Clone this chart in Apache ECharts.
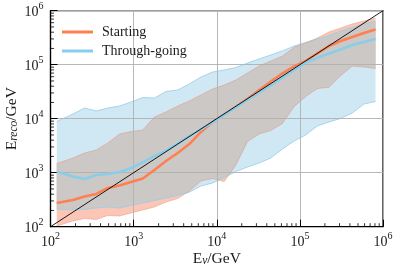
<!DOCTYPE html>
<html><head><meta charset="utf-8">
<script src="https://cdn.jsdelivr.net/npm/echarts@6/dist/echarts.min.js"></script>
<style>html,body{margin:0;padding:0;background:#fff}#c{width:399px;height:272px}</style>
</head><body><div id="c"></div>
<script>
// All values are log10(GeV)
const energyLog10 = [2.075, 2.27, 2.41, 2.55, 2.69, 2.83, 2.97, 3.11, 3.25, 3.39, 3.53, 3.67, 3.81, 3.95, 4.09, 4.23, 4.37, 4.51, 4.65, 4.79, 4.93, 5.07, 5.21, 5.35, 5.49, 5.63, 5.77, 5.91];
const startingMedianLog10 = [2.439, 2.494, 2.559, 2.606, 2.717, 2.763, 2.828, 2.893, 3.05, 3.217, 3.365, 3.531, 3.754, 3.939, 4.08, 4.22, 4.37, 4.53, 4.69, 4.84, 4.97, 5.07, 5.207, 5.346, 5.439, 5.513, 5.587, 5.652];
const startingUpperLog10 = [3.170, 3.272, 3.365, 3.420, 3.550, 3.717, 3.763, 3.791, 4.031, 4.124, 4.235, 4.328, 4.439, 4.55, 4.624, 4.717, 4.846, 4.976, 5.069, 5.16, 5.322, 5.402, 5.494, 5.606, 5.68, 5.754, 5.81, 5.865];
const startingLowerLog10 = [2.013, 2.106, 2.152, 2.133, 2.207, 2.198, 2.254, 2.309, 2.365, 2.457, 2.522, 2.661, 2.846, 2.893, 2.837, 3.143, 3.576, 3.717, 3.78, 3.913, 4.222, 4.411, 4.559, 4.581, 4.796, 4.976, 4.957, 4.93];
const throughMedianLog10 = [3.019, 2.930, 2.883, 2.957, 2.976, 3.013, 3.087, 3.189, 3.309, 3.411, 3.541, 3.680, 3.80, 3.93, 4.08, 4.21, 4.35, 4.48, 4.62, 4.76, 4.90, 5.039, 5.124, 5.207, 5.281, 5.365, 5.42, 5.476];
const throughUpperLog10 = [3.948, 4.087, 4.198, 4.143, 4.198, 4.235, 4.309, 4.393, 4.383, 4.504, 4.531, 4.643, 4.772, 4.865, 4.902, 4.948, 5.031, 5.106, 5.180, 5.254, 5.346, 5.412, 5.476, 5.541, 5.624, 5.689, 5.754, 5.809];
const throughLowerLog10 = [2.328, 2.309, 2.319, 2.346, 2.365, 2.346, 2.393, 2.439, 2.485, 2.531, 2.578, 2.64, 2.754, 2.809, 2.911, 3.022, 3.106, 3.180, 3.272, 3.439, 3.587, 3.698, 3.865, 3.939, 4.004, 4.106, 4.272, 4.319];
const identityLine = [100, 1000000];
const axisMin = 100, axisMax = 1000000;
const majorTicks = [100, 1000, 10000, 100000, 1000000];
const minorMultipliers = [2, 3, 4, 5, 6, 7, 8, 9];
const seriesNames = ['Starting', 'Through-going'];

const FONT = 'Liberation Serif';
const TXT = '#1a1a1a';
const P = v => Math.pow(10, v);
const zip = (xs, ys) => xs.map((x, i) => [x, ys[i]]);

function envelope(xs, a, b, pick) {
  const out = [];
  for (let i = 0; i < xs.length; i++) {
    out.push([xs[i], pick(a[i], b[i])]);
    if (i < xs.length - 1) {
      const d0 = a[i] - b[i], d1 = a[i + 1] - b[i + 1];
      if (d0 * d1 < 0) {
        const t = d0 / (d0 - d1);
        out.push([xs[i] + t * (xs[i + 1] - xs[i]), a[i] + t * (a[i + 1] - a[i])]);
      }
    }
  }
  return out;
}
function toPx(api, pts) { return pts.map(p => api.coord([P(p[0]), P(p[1])])); }
function bandSeries(upper, lower, fill, z) {
  return {
    type: 'custom', silent: true, z: z, clip: true, data: [[axisMin, axisMin]],
    renderItem: (params, api) => ({
      type: 'polygon',
      shape: { points: toPx(api, upper.concat(lower.slice().reverse())) },
      style: { fill: fill, stroke: null }
    })
  };
}
function edgeSeries(lines, color, z) {
  return {
    type: 'custom', silent: true, z: z, clip: true, data: [[axisMin, axisMin]],
    renderItem: (params, api) => ({
      type: 'group',
      children: lines.map(l => ({ type: 'polyline', shape: { points: toPx(api, l) }, style: { stroke: color, lineWidth: 0.9, fill: null } }))
    })
  };
}

const sHi = zip(energyLog10, startingUpperLog10), sLo = zip(energyLog10, startingLowerLog10);
const tHi = zip(energyLog10, throughUpperLog10), tLo = zip(energyLog10, throughLowerLog10);
const oHi = envelope(energyLog10, startingUpperLog10, throughUpperLog10, Math.min);
const oLo = envelope(energyLog10, startingLowerLog10, throughLowerLog10, Math.max);

const minorVals = [];
majorTicks.slice(0, -1).forEach(d => minorMultipliers.forEach(m => minorVals.push(d * m)));

const labelRich = {
  b: { fontFamily: FONT, fontSize: 14, color: TXT, lineHeight: 18, verticalAlign: 'bottom' },
  e: { fontFamily: FONT, fontSize: 10, color: TXT, lineHeight: 18, verticalAlign: 'top' }
};
const nameRich = {
  b: { fontFamily: FONT, fontSize: 15.5, color: TXT, verticalAlign: 'bottom', lineHeight: 20 },
  s: { fontFamily: FONT, fontSize: 11.5, color: TXT, fontStyle: 'italic', verticalAlign: 'bottom', lineHeight: 15 }
};
const expFmt = v => '{b|10}{e|' + Math.round(Math.log10(v)) + '}';

const chart = echarts.init(document.getElementById('c'), null, { renderer: 'canvas' });
chart.setOption({
  animation: false,
  backgroundColor: '#fff',
  grid: { left: 50.5, right: 16, top: 10.7, bottom: 45.3, show: true, borderColor: '#000', borderWidth: 1.2, backgroundColor: 'transparent', outerBoundsMode: 'none' },
  legend: {
    data: [{ name: seriesNames[0], icon: 'rect' }, { name: seriesNames[1], icon: 'rect' }],
    orient: 'vertical', left: 57, top: 20, itemWidth: 31, itemHeight: 3, itemGap: 5,
    textStyle: { fontFamily: FONT, fontSize: 14, color: TXT, padding: [0, 0, 0, 4] }
  },
  xAxis: {
    type: 'log', logBase: 10, min: axisMin, max: axisMax, z: 3,
    name: '{b|E}{s|ν}{b|/GeV}', nameLocation: 'middle', nameGap: 20, nameMoveOverlap: false,
    nameTextStyle: { rich: nameRich },
    axisLine: { show: true, onZero: false, lineStyle: { color: '#000', width: 1.2 } },
    axisTick: { show: true, inside: true, length: 7, lineStyle: { color: '#000', width: 1 } },
    axisLabel: { formatter: expFmt, rich: labelRich, margin: 5 },
    splitLine: { show: true, lineStyle: { color: '#b0b0b0', width: 0.9 } },
    minorTick: { show: false }
  },
  yAxis: {
    type: 'log', logBase: 10, min: axisMin, max: axisMax, z: 3,
    name: '{b|E}{s|reco}{b|/GeV}', nameLocation: 'middle', nameGap: 31, nameRotate: 90, nameMoveOverlap: false,
    nameTextStyle: { rich: nameRich },
    axisLine: { show: true, onZero: false, lineStyle: { color: '#000', width: 1.2 } },
    axisTick: { show: true, inside: true, length: 7, lineStyle: { color: '#000', width: 1 } },
    axisLabel: { formatter: expFmt, rich: labelRich, margin: 7 },
    splitLine: { show: true, lineStyle: { color: '#b0b0b0', width: 0.9 } },
    minorTick: { show: false }
  },
  series: [
    bandSeries(tHi, tLo, '#cfe8f4', 1),
    bandSeries(sHi, sLo, '#fcc6b6', 1),
    bandSeries(oHi, oLo, '#ccc8c6', 1),
    edgeSeries([tHi, tLo], 'rgba(150,205,232,0.9)', 2),
    edgeSeries([sHi, sLo], 'rgba(222,150,135,0.55)', 2),
    {
      name: seriesNames[0], type: 'line', z: 4, showSymbol: false, symbol: 'none', silent: true,
      data: zip(energyLog10.map(P), startingMedianLog10.map(P)),
      lineStyle: { color: '#ff7f50', width: 2.5 }, itemStyle: { color: '#ff7f50' }
    },
    {
      name: seriesNames[1], type: 'line', z: 4, showSymbol: false, symbol: 'none', silent: true,
      data: zip(energyLog10.map(P), throughMedianLog10.map(P)),
      lineStyle: { color: '#87ceeb', width: 2.5 }, itemStyle: { color: '#87ceeb' }
    },
    {
      type: 'line', z: 5, showSymbol: false, symbol: 'none', silent: true,
      data: zip(identityLine, identityLine),
      lineStyle: { color: '#000', width: 0.9 }
    },
    {
      type: 'custom', silent: true, z: 6, clip: false, data: minorVals.map(v => [v, axisMin]),
      renderItem: (params, api) => {
        const p = api.coord([api.value(0), axisMin]);
        return { type: 'line', shape: { x1: p[0], y1: p[1], x2: p[0], y2: p[1] - 3.5 }, style: { stroke: '#000', lineWidth: 0.8 } };
      }
    },
    {
      type: 'custom', silent: true, z: 6, clip: false, data: minorVals.map(v => [axisMin, v]),
      renderItem: (params, api) => {
        const p = api.coord([axisMin, api.value(1)]);
        return { type: 'line', shape: { x1: p[0], y1: p[1], x2: p[0] + 3.5, y2: p[1] }, style: { stroke: '#000', lineWidth: 0.8 } };
      }
    }
  ]
});
</script></body></html>
